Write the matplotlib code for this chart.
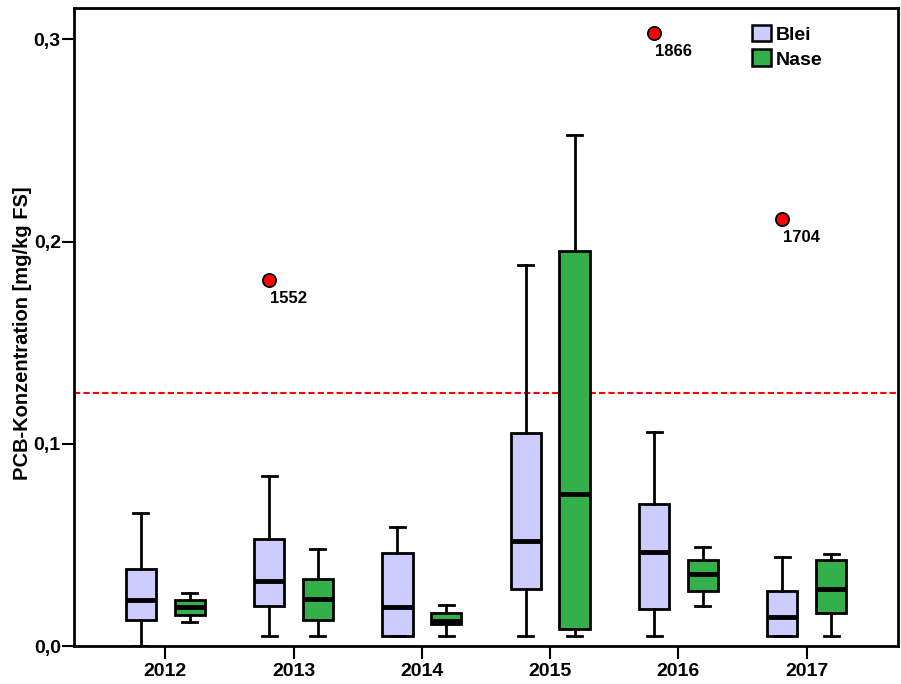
import numpy as np
import matplotlib.pyplot as plt
from matplotlib.patches import Patch

YEARS = ['2012', '2013', '2014', '2015', '2016', '2017']
SPECIES = ['Blei', 'Nase']
COLORS = {'Blei': '#CCCCFF', 'Nase': '#33B04A'}

# five-number summaries per year (whisker low, Q1, median, Q3, whisker high)
BLEI_LO  = [0.0,    0.0051, 0.0051, 0.0051, 0.0051, 0.0051]
BLEI_Q1  = [0.0129, 0.0196, 0.0051, 0.0281, 0.0185, 0.0051]
BLEI_MED = [0.0226, 0.0320, 0.0191, 0.0517, 0.0465, 0.0143]
BLEI_Q3  = [0.0381, 0.0529, 0.0460, 0.1054, 0.0700, 0.0272]
BLEI_HI  = [0.0658, 0.0840, 0.0587, 0.1882, 0.1059, 0.0442]

NASE_LO  = [0.0121, 0.0051, 0.0051, 0.0051, 0.0198, 0.0051]
NASE_Q1  = [0.0153, 0.0129, 0.0107, 0.0086, 0.0274, 0.0163]
NASE_MED = [0.0191, 0.0233, 0.0126, 0.0752, 0.0356, 0.0282]
NASE_Q3  = [0.0226, 0.0330, 0.0165, 0.1955, 0.0423, 0.0423]
NASE_HI  = [0.0262, 0.0478, 0.0201, 0.2525, 0.0488, 0.0457]

# outliers (Blei only): year index, value, case label
OUT_YEAR = [1, 4, 5]
OUT_VAL = [0.181, 0.303, 0.211]
OUT_LABEL = ['1552', '1866', '1704']

THRESHOLD = 0.125

plt.rcParams['font.family'] = ['Liberation Sans', 'DejaVu Sans']
plt.rcParams['font.weight'] = 'bold'

fig = plt.figure(figsize=(9.01, 6.84), dpi=100)
ax = fig.add_axes([74 / 901, 1 - 646 / 684, 824 / 901, 638 / 684])

x = np.arange(len(YEARS))
offset = 0.19
width = 0.234

series = {
    'Blei': (BLEI_LO, BLEI_Q1, BLEI_MED, BLEI_Q3, BLEI_HI, -offset),
    'Nase': (NASE_LO, NASE_Q1, NASE_MED, NASE_Q3, NASE_HI, offset),
}

for sp in SPECIES:
    lo, q1, med, q3, hi, dx = series[sp]
    stats = [dict(whislo=lo[i], q1=q1[i], med=med[i], q3=q3[i], whishi=hi[i], fliers=[])
             for i in range(len(YEARS))]
    ax.bxp(stats, positions=x + dx, widths=width, patch_artist=True,
           showfliers=False, manage_ticks=False,
           boxprops=dict(facecolor=COLORS[sp], edgecolor='black', linewidth=2),
           medianprops=dict(color='black', linewidth=3.5),
           whiskerprops=dict(color='black', linewidth=2),
           capprops=dict(color='black', linewidth=2),
           capwidths=width / 2)

# outliers
ox = np.array(OUT_YEAR) - offset
ax.scatter(ox, OUT_VAL, s=90, color='#FF0000', edgecolors='black', linewidths=1.3, zorder=5)
for xi, v, lab in zip(ox, OUT_VAL, OUT_LABEL):
    ax.annotate(lab, (xi, v), xytext=(0.5, -13), textcoords='offset points',
                fontsize=12, fontweight='bold', ha='left', va='center')

ax.axhline(THRESHOLD, color='#FF0000', linestyle=(0, (3, 1.5)), linewidth=1.5, zorder=1)

ax.set_xlim(-0.712, len(YEARS) - 1 + 0.712)
ax.set_ylim(0, 0.3155)
ax.set_xticks(x)
ax.set_xticklabels(YEARS, fontsize=14, fontweight='bold')
ax.set_yticks([0, 0.1, 0.2, 0.3])
ax.set_yticklabels(['0,0', '0,1', '0,2', '0,3'], fontsize=14, fontweight='bold')
ax.tick_params(axis='both', length=9, width=1.5, direction='out')
ax.tick_params(axis='x', pad=3)
ax.tick_params(axis='y', pad=0.5)
ax.set_ylabel('PCB-Konzentration [mg/kg FS]', fontsize=14.5, fontweight='bold')
ax.yaxis.set_label_coords(-0.051, 0.49)
for s in ax.spines.values():
    s.set_linewidth(2)

handles = [Patch(facecolor=COLORS[sp], edgecolor='black', linewidth=1.8, label=sp) for sp in SPECIES]
leg = ax.legend(handles=handles, loc='upper left', bbox_to_anchor=(0.823, 0.974),
                frameon=False, handlelength=0.95, handleheight=0.95, handletextpad=0.25,
                labelspacing=0.3, borderaxespad=0, borderpad=0,
                prop=dict(size=14, weight='bold'))

fig.savefig('out.png', dpi=100)
